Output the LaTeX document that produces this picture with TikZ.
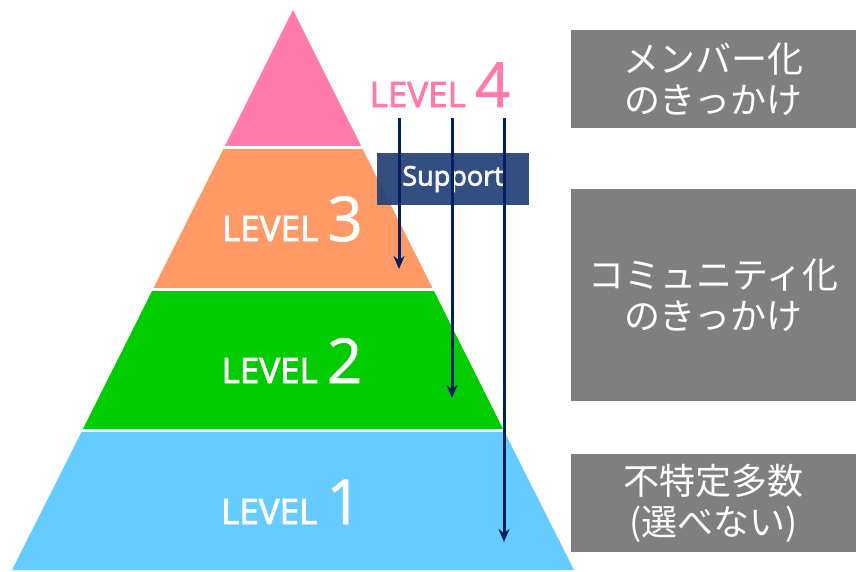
\documentclass[tikz,border=0pt]{standalone}
\usepackage{fontspec}
\setmainfont{Open Sans}
\newfontfamily\lvfont{Open Sans}[FakeBold=2.5]
\newfontfamily\numfont{Open Sans}[FakeBold=1]
\newfontfamily\jpfont{Noto Sans CJK JP}
\usetikzlibrary{arrows.meta}
\definecolor{lvfour}{RGB}{255,123,172}
\definecolor{lvthree}{RGB}{255,153,102}
\definecolor{lvtwo}{RGB}{0,204,0}
\definecolor{lvone}{RGB}{102,204,255}
\definecolor{boxgray}{RGB}{127,127,127}
\definecolor{navy}{RGB}{0,32,96}
\definecolor{supportblue}{RGB}{40,68,122}
\newcommand\lvnum[1]{{\numfont\fontsize{62}{62}\selectfont #1}}
\tikzset{
  lvtext/.style={anchor=base,text=white,inner sep=0pt,font=\lvfont\fontsize{35}{35}\selectfont},
  notebox/.style={fill=boxgray,text=white,inner sep=0pt,align=center,
    font=\jpfont\fontsize{36}{41}\selectfont},
  supportarrow/.style={draw=navy,line width=3pt,-{Stealth[length=13pt,width=11pt]}}
}
\begin{document}
\begin{tikzpicture}[x=1pt,y=-1pt]
  \useasboundingbox (0,0) rectangle (856,571);
  % pyramid
  \fill[lvfour] (293,10) -- (361.9,147.5) -- (224.1,147.5) -- cycle;
  \fill[lvthree] (224.1,147.5) -- (361.9,147.5) -- (433.2,289.5) -- (152.8,289.5) -- cycle;
  \fill[lvtwo] (152.8,289.5) -- (433.2,289.5) -- (503.8,430.5) -- (82.2,430.5) -- cycle;
  \fill[lvone] (82.2,430.5) -- (503.8,430.5) -- (574,570) -- (12,570) -- cycle;
  \draw[white,line width=3pt] (200,147.5) -- (390,147.5);
  \draw[white,line width=3pt] (130,289.5) -- (460,289.5);
  \draw[white,line width=3pt] (60,430.5) -- (530,430.5);
  \node[lvtext] (lv3) at (292.5,241) {LEVEL \lvnum{3}};
  \node[lvtext] (lv2) at (292,383) {LEVEL \lvnum{2}};
  \node[lvtext] (lv1) at (291.5,524) {LEVEL \lvnum{1}};
  \node[lvtext,text=lvfour] (lv4) at (440,107) {LEVEL \lvnum{4}};
  % support
  \node[fill=supportblue,fill opacity=0.95,text=white,inner sep=0pt,
    minimum width=152pt,minimum height=52pt,font=\lvfont\fontsize{27}{27}\selectfont]
    (support) at (453,179) {Support};
  \coordinate (s1) at (399,118);
  \coordinate (s2) at (452,118);
  \coordinate (s3) at (504,118);
  \coordinate (e1) at (399,269);
  \coordinate (e2) at (452,398);
  \coordinate (e3) at (504,542);
  \begin{scope}[supportarrow]
    \draw (s1) to (e1);
    \draw (s2) to (e2);
    \draw (s3) to (e3);
  \end{scope}
  % notes
  \node[notebox,minimum width=285pt,minimum height=98pt] (note4) at (713.5,79) {メンバー化\\のきっかけ};
  \node[notebox,minimum width=285pt,minimum height=212pt] (note3) at (713.5,295) {コミュニティ化\\のきっかけ};
  \node[notebox,minimum width=285pt,minimum height=98pt] (note1) at (713.5,503) {不特定多数\\(選べない)};
\end{tikzpicture}
\end{document}
